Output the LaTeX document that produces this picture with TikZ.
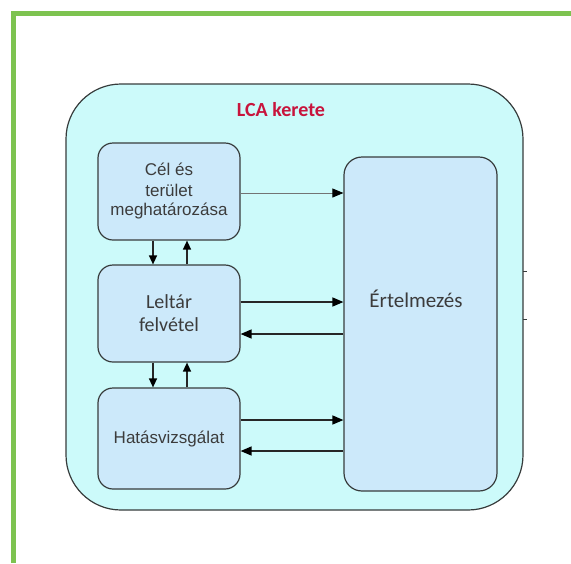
\documentclass[tikz,border=0pt]{standalone}
\usepackage{fontspec}
\setmainfont{Liberation Sans}
\newfontfamily\calib{Carlito}
\usetikzlibrary{arrows.meta}
\definecolor{greenframe}{RGB}{125,195,80}
\definecolor{outerfill}{RGB}{204,250,250}
\definecolor{boxfill}{RGB}{204,233,250}
\definecolor{edgecol}{RGB}{55,60,60}
\definecolor{titlered}{RGB}{200,20,60}
\definecolor{txtgray}{RGB}{60,60,60}
\tikzset{
  stagebox/.style={draw=edgecol, line width=1.2pt, fill=boxfill, rounded corners=15pt,
    minimum width=142pt, inner sep=0pt, align=center, text=txtgray,
    font=\fontsize{17}{20}\selectfont},
  conn/.style={draw=black!85, line width=1.4pt, -{Triangle[length=11pt,width=9pt,color=black]}},
  vconn/.style={draw=black!85, line width=1.4pt, -{Triangle[length=9pt,width=8pt,color=black]}},
  thinconn/.style={draw=black!55, line width=0.8pt, -{Triangle[length=11pt,width=9pt,color=black]}}
}
\begin{document}
\begin{tikzpicture}[x=1pt,y=-1pt]
\useasboundingbox (0,0) rectangle (571,563);
% green frame
\draw[greenframe, line width=4.5pt] (13.5,563) -- (13.5,13.5) -- (571,13.5);
% outer frame
\draw[edgecol, line width=1.2pt, fill=outerfill, rounded corners=55pt] (66,84) rectangle (523,510);
\draw[edgecol, line width=1pt] (523,271) -- (527,271) (523,319) -- (527,319);
\node[font=\calib\bfseries\fontsize{20}{22}\selectfont, text=titlered] (title) at (281,110) {LCA kerete};
% boxes
\node[stagebox, minimum height=97pt] (cel) at (169,191.5) {Cél és\\terület\\meghatározása};
\node[stagebox, minimum height=97pt, font=\calib\fontsize{20}{23}\selectfont] (lelt) at (169,313.5) {Leltár\\felvétel};
\node[stagebox, minimum height=101pt] (hat) at (169,438.5) {Hatásvizsgálat};
\node[stagebox, minimum width=153pt, minimum height=334pt, rounded corners=18pt,
      font=\calib\fontsize{21}{24}\selectfont] (ert) at (420.5,324) {};
\node[font=\calib\fontsize{21}{24}\selectfont, text=txtgray] (erttxt) at (416,299) {Értelmezés};
% horizontal connectors
\draw[thinconn] (cel.east |- 0,193) -- (ert.west |- 0,193);
\draw[conn] (lelt.east |- 0,302) -- (ert.west |- 0,302);
\draw[conn] (ert.west |- 0,334) -- (lelt.east |- 0,334);
\draw[conn] (hat.east |- 0,420) -- (ert.west |- 0,420);
\draw[conn] (ert.west |- 0,451) -- (hat.east |- 0,451);
% vertical connectors
\draw[vconn] (cel.south -| 153,0) -- (lelt.north -| 153,0);
\draw[vconn] (lelt.north -| 187,0) -- (cel.south -| 187,0);
\draw[vconn] (lelt.south -| 153,0) -- (hat.north -| 153,0);
\draw[vconn] (hat.north -| 187,0) -- (lelt.south -| 187,0);
\end{tikzpicture}
\end{document}
